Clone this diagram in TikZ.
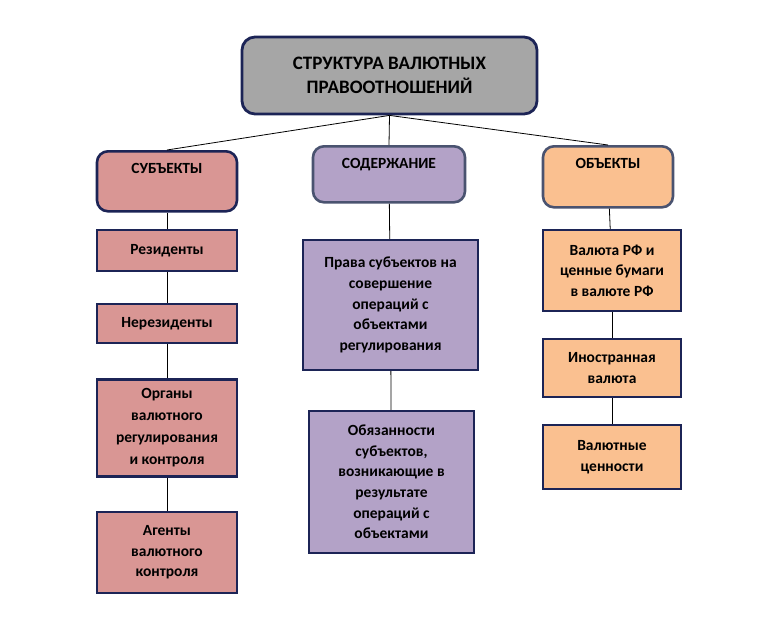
\documentclass[tikz,border=0pt]{standalone}
\usepackage{fontspec}
\setmainfont{Carlito}
\definecolor{navy}{HTML}{1C2456}
\definecolor{slateblue}{HTML}{4A5370}
\definecolor{greybox}{HTML}{A6A6A6}
\definecolor{pinkbox}{HTML}{D99694}
\definecolor{lilacbox}{HTML}{B3A2C7}
\definecolor{peachbox}{HTML}{FAC090}
\begin{document}
\begin{tikzpicture}[x=1pt,y=-1pt,
    every node/.style={font=\bfseries\fontsize{15.5}{20.6}\selectfont, align=center, inner sep=0pt},
    titlebox/.style={draw=navy, line width=2.8pt, fill=greybox, rounded corners=13pt,
        minimum width=295pt, minimum height=77pt, font=\bfseries\fontsize{19}{23.5}\selectfont},
    headbox/.style={line width=2.6pt, rounded corners=11pt, anchor=north,
        text height=16pt, text depth=32pt, inner ysep=6pt},
    itembox/.style={draw=navy, line width=2.4pt, inner sep=0pt},
    link/.style={line width=0.8pt, black}
]
    \useasboundingbox (0,0) rectangle (771,624);

    % Заголовок
    \node[titlebox] (title) at (389.5,75.5) {СТРУКТУРА ВАЛЮТНЫХ\\ПРАВООТНОШЕНИЙ};

    % Три раздела
    \node[headbox, draw=navy, fill=pinkbox, minimum width=140pt] (subj) at (167,150) {СУБЪЕКТЫ};
    \node[headbox, draw=slateblue, fill=lilacbox, minimum width=152pt, text depth=28pt] (cont) at (389,145) {СОДЕРЖАНИЕ};
    \node[headbox, draw=slateblue, fill=peachbox, minimum width=130pt, text depth=33pt] (obj) at (608,145) {ОБЪЕКТЫ};

    % Субъекты
    \node[itembox, fill=pinkbox, minimum width=140pt, minimum height=41pt] (res) at (167,250.5) {Резиденты};
    \node[itembox, fill=pinkbox, minimum width=140pt, minimum height=39pt] (nonres) at (167,323.5) {Нерезиденты};
    \node[itembox, fill=pinkbox, minimum width=140pt, minimum height=97pt,
        font=\bfseries\fontsize{15.5}{22}\selectfont] (organs) at (167,428) {Органы\\валютного\\регулирования\\и контроля};
    \node[itembox, fill=pinkbox, minimum width=140pt, minimum height=81pt] (agents) at (167,552.5) {Агенты\\валютного\\контроля};

    % Содержание
    \node[itembox, fill=lilacbox, minimum width=175pt, minimum height=130pt] (rights) at (390.5,305) {Права субъектов на\\совершение\\операций с\\объектами\\регулирования};
    \node[itembox, fill=lilacbox, minimum width=165pt, minimum height=142pt] (duties) at (391.5,482) {Обязанности\\субъектов,\\возникающие в\\результате\\операций с\\объектами};

    % Объекты
    \node[itembox, fill=peachbox, minimum width=138pt, minimum height=81pt] (rub) at (612,270.5) {Валюта РФ и\\ценные бумаги\\в валюте РФ};
    \node[itembox, fill=peachbox, minimum width=138pt, minimum height=58pt] (foreign) at (612,368) {Иностранная\\валюта};
    \node[itembox, fill=peachbox, minimum width=138pt, minimum height=64pt] (values) at (612,457) {Валютные\\ценности};

    % Связи
    \draw[link] (title.south) -- (subj.north);
    \draw[link] (title.south) -- (cont.north);
    \draw[link] (title.south) -- (obj.north);
    \draw[link] (subj) -- (res);
    \draw[link] (res) -- (nonres);
    \draw[link] (nonres) -- (organs);
    \draw[link] (organs) -- (agents);
    \draw[link] (cont) -- (rights);
    \draw[link] (rights) -- (duties);
    \draw[link] (obj) -- (rub);
    \draw[link] (rub) -- (foreign);
    \draw[link] (foreign) -- (values);

\end{tikzpicture}
\end{document}
